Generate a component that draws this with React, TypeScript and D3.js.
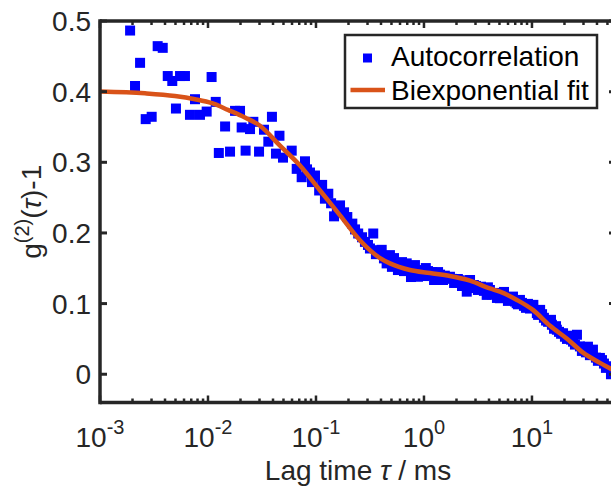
import React from "react";
import * as d3 from "d3";

// Lag times (ms) and measured g2(τ)-1 values
const lagTime = [
  1.9e-3, 2.11e-3, 2.35e-3, 2.65e-3, 3.01e-3, 3.42e-3, 3.81e-3, 4.24e-3, 4.67e-3, 5.05e-3,
  5.51e-3, 6.12e-3, 6.81e-3, 7.58e-3, 8.43e-3, 9.72e-3, 1.08e-2, 1.18e-2, 1.26e-2, 1.44e-2,
  1.6e-2, 1.78e-2, 1.98e-2, 2.05e-2, 2.23e-2, 2.45e-2, 2.63e-2, 2.97e-2, 3.3e-2, 3.62e-2,
  3.91e-2, 4.26e-2, 4.59e-2, 4.95e-2, 5.96e-2, 6.63e-2, 7.37e-2, 7.91e-2, 8.8e-2, 9.79e-2,
  0.107, 0.121, 0.13, 0.147, 0.167, 0.182, 0.195, 0.217, 0.246, 0.267,
  0.284, 0.316, 0.339, 0.375, 0.406, 0.451, 0.484, 0.528, 0.574, 0.626,
  0.692, 0.758, 0.825, 0.88, 0.958, 1.04, 1.14, 1.24, 1.35, 1.5,
  1.63, 1.74, 1.9, 2.06, 2.25, 2.49, 2.67, 2.9, 3.16, 3.37,
  3.81, 4.08, 4.45, 4.74, 5.05, 5.51, 5.99, 6.67, 7.22, 7.74,
  8.43, 9.18, 10.3, 11.1, 11.9, 12.9, 14.1, 15.0, 16.0, 17.0,
  18.6, 20.2, 22.0, 24.0, 26.1, 27.8, 30.3, 33.0, 36.7, 39.1,
  42.6, 46.4, 50.5, 53.9,
  8.26e-2, 9.18e-2, 0.114, 0.138, 0.156, 0.23, 0.303, 0.359, 0.426,
  0.505, 0.551, 0.599, 0.653, 0.726, 0.791, 0.918, 1.0, 1.09, 1.19,
  1.29, 1.41, 1.56, 1.82, 1.98, 2.15, 2.35, 2.56, 2.78, 3.03,
  3.59, 3.91, 4.26, 4.95, 5.28, 5.74, 6.26, 6.96, 7.42, 8.08,
  8.8, 9.58, 11.4, 12.4, 13.5, 15.3, 16.7, 17.8, 19.4, 21.1,
  23.0, 25.0, 29.0, 31.6, 34.4, 40.8, 44.5, 48.4,
];
const autocorr = [
  0.4865, 0.408, 0.4408, 0.3611, 0.3644, 0.4644, 0.462, 0.4221, 0.4151, 0.3761,
  0.4221, 0.4221, 0.3672, 0.3893, 0.3672, 0.3718, 0.4207, 0.3855, 0.3132, 0.3507,
  0.3151, 0.3728, 0.3728, 0.3493, 0.3165, 0.347, 0.3573, 0.3151, 0.3461, 0.3292,
  0.3644, 0.3123, 0.3376, 0.3066, 0.3165, 0.2907, 0.2789, 0.3014, 0.2855, 0.2813,
  0.2601, 0.2485, 0.2555, 0.2235, 0.239, 0.2292, 0.2225, 0.2132, 0.1992, 0.1939,
  0.1873, 0.178, 0.1992, 0.1756, 0.1761, 0.1569, 0.1686, 0.1644, 0.1475, 0.1587,
  0.1569, 0.1376, 0.1545, 0.138, 0.1475, 0.1503, 0.1404, 0.1334, 0.1446, 0.1334,
  0.1362, 0.138, 0.1292, 0.1348, 0.1249, 0.1169, 0.1334, 0.1263, 0.1193, 0.1239,
  0.1123, 0.1193, 0.1151, 0.108, 0.1076, 0.1165, 0.1038, 0.1099, 0.1006, 0.1052,
  0.0968, 0.0996, 0.0982, 0.0865, 0.0911, 0.0799, 0.0742, 0.077, 0.0644, 0.063,
  0.0573, 0.0531, 0.0545, 0.0461, 0.0559, 0.0394, 0.0362, 0.039, 0.0348, 0.0235,
  0.0231, 0.0151, 0.0113, 0.0,
  0.29, 0.272, 0.268, 0.242, 0.23, 0.205, 0.183, 0.17, 0.164,
  0.152, 0.156, 0.15, 0.146, 0.151, 0.143, 0.142, 0.139, 0.146, 0.1445,
  0.137, 0.141, 0.1395, 0.135, 0.13, 0.133, 0.128, 0.13, 0.122, 0.125,
  0.118, 0.123, 0.113, 0.114, 0.11, 0.108, 0.106, 0.103, 0.099, 0.101,
  0.094, 0.093, 0.084, 0.085, 0.076, 0.07, 0.068, 0.06, 0.058, 0.05,
  0.049, 0.042, 0.033, 0.031, 0.027, 0.019, 0.02, 0.009,
];

// Biexponential fit curve
const fitTime = [
  1e-3, 2.61e-3, 4.94e-3, 7.59e-3, 1.089e-2, 1.531e-2, 2.2e-2, 3.03e-2, 4.64e-2, 7.11e-2,
  0.109, 0.167, 0.255, 0.392, 0.484, 0.741, 1.14, 1.74, 2.67, 4.08,
  5.05, 7.26, 10.2, 14.7, 21.1, 29.7, 42.6, 60,
];
const fitValue = [
  0.4003, 0.3977, 0.3939, 0.3893, 0.3837, 0.3742, 0.3634, 0.3517, 0.3235, 0.2954,
  0.2601, 0.2249, 0.1897, 0.1644, 0.1569, 0.1475, 0.1432, 0.139, 0.1324, 0.1214,
  0.1169, 0.1052, 0.0911, 0.0686, 0.0503, 0.0306, 0.0161, 0.0038,
];

const yTicks = [0, 0.1, 0.2, 0.3, 0.4, 0.5];
const yTickLabels = ["0", "0.1", "0.2", "0.3", "0.4", "0.5"];
const xTickExponents = [-3, -2, -1, 0, 1];
const xDomain = [1e-3, 60];
const yDomain = [-0.04, 0.5];
const legendLabels = ["Autocorrelation", "Biexponential fit"];

const W = 611;
const H = 486;
const L = 100, R = 616, T = 21, B = 402.5;
const AX = "#262626";
const BLUE = "#0000FF";
const ORANGE = "#D95319";
const FONT = "'Liberation Sans', Arial, Helvetica, sans-serif";

export default function App() {
  const x = d3.scaleLog().domain(xDomain).range([L, R]);
  const y = d3.scaleLinear().domain(yDomain).range([B, T]);

  const fitPts = fitTime.map((t, i) => [x(t), y(fitValue[i])] as [number, number]);
  const linePath = d3.line().curve(d3.curveMonotoneX)(fitPts) || "";

  const minorTicks: number[] = [];
  for (let e = -3; e <= 1; e++) {
    for (let m = 2; m <= 9; m++) {
      const v = m * Math.pow(10, e);
      if (v <= xDomain[1]) minorTicks.push(v);
    }
  }

  const ms = 10;
  const majorLen = 7;
  const minorLen = 4;

  return (
    <svg
      width={W}
      height={H}
      style={{ position: "absolute", left: 0, top: 0, background: "#fff" }}
      fontFamily={FONT}
    >
      <rect x={0} y={0} width={W} height={H} fill="#fff" />
      <defs>
        <clipPath id="plotclip">
          <rect x={L - 6} y={T - 6} width={R - L + 12} height={B - T + 12} />
        </clipPath>
      </defs>

      {/* data */}
      <g clipPath="url(#plotclip)">
        {lagTime.map((t, i) => (
          <rect
            key={i}
            x={x(t) - ms / 2}
            y={y(autocorr[i]) - ms / 2}
            width={ms}
            height={ms}
            fill={BLUE}
          />
        ))}
        <path d={linePath} fill="none" stroke={ORANGE} strokeWidth={4.5} strokeLinejoin="round" />
      </g>

      {/* axes box */}
      <g stroke={AX} strokeWidth={3.5} fill="none">
        <line x1={L} y1={T} x2={R} y2={T} />
        <line x1={L} y1={B} x2={R} y2={B} />
        <line x1={L} y1={T - 1.75} x2={L} y2={B + 1.75} />
        <line x1={R} y1={T - 1.75} x2={R} y2={B + 1.75} />
      </g>

      {/* y ticks */}
      <g stroke={AX} strokeWidth={3}>
        {yTicks.map((v) => (
          <g key={v}>
            <line x1={L} x2={L + majorLen} y1={y(v)} y2={y(v)} />
            <line x1={R} x2={R - majorLen} y1={y(v)} y2={y(v)} />
          </g>
        ))}
      </g>
      {/* x ticks */}
      <g stroke={AX} strokeWidth={2.5}>
        {xTickExponents.map((e) => (
          <g key={e}>
            <line x1={x(Math.pow(10, e))} x2={x(Math.pow(10, e))} y1={B} y2={B - majorLen} />
            <line x1={x(Math.pow(10, e))} x2={x(Math.pow(10, e))} y1={T} y2={T + majorLen} />
          </g>
        ))}
        {minorTicks.map((v, i) => (
          <g key={i}>
            <line x1={x(v)} x2={x(v)} y1={B} y2={B - minorLen} />
            <line x1={x(v)} x2={x(v)} y1={T} y2={T + minorLen} />
          </g>
        ))}
      </g>

      {/* y tick labels */}
      <g fill={AX} fontSize={28} textAnchor="end">
        {yTicks.map((v, i) => (
          <text key={v} x={91} y={y(v) + 10}>
            {yTickLabels[i]}
          </text>
        ))}
      </g>
      {/* x tick labels */}
      <g fill={AX} fontSize={28} textAnchor="middle">
        {xTickExponents.map((e) => (
          <text key={e} x={x(Math.pow(10, e))} y={446.7}>
            10
            <tspan fontSize={20} dy={-12.5}>
              {e}
            </tspan>
          </text>
        ))}
      </g>

      {/* axis labels */}
      <text x={(L + R) / 2} y={480} fontSize={28} fill={AX} textAnchor="middle">
        Lag time <tspan fontStyle="italic">τ</tspan> / ms
      </text>
      <text
        transform={`translate(41,${(T + B) / 2}) rotate(-90)`}
        fontSize={28}
        fill={AX}
        textAnchor="middle"
      >
        g
        <tspan fontSize={20} dy={-12.5}>
          (2)
        </tspan>
        <tspan dy={12.5}>(</tspan>
        <tspan fontStyle="italic">τ</tspan>
        <tspan>)-1</tspan>
      </text>

      {/* legend */}
      <g>
        <rect x={345} y={35} width={252} height={73} fill="#fff" stroke={AX} strokeWidth={2.5} />
        <rect x={367.5 - 4.5} y={58 - 4.5} width={9} height={9} fill={BLUE} />
        <line x1={350.5} x2={385} y1={90} y2={90} stroke={ORANGE} strokeWidth={4.5} />
        <text x={391} y={66} fontSize={28} fill="#000">
          {legendLabels[0]}
        </text>
        <text x={391} y={100} fontSize={28} fill="#000">
          {legendLabels[1]}
        </text>
      </g>
    </svg>
  );
}
